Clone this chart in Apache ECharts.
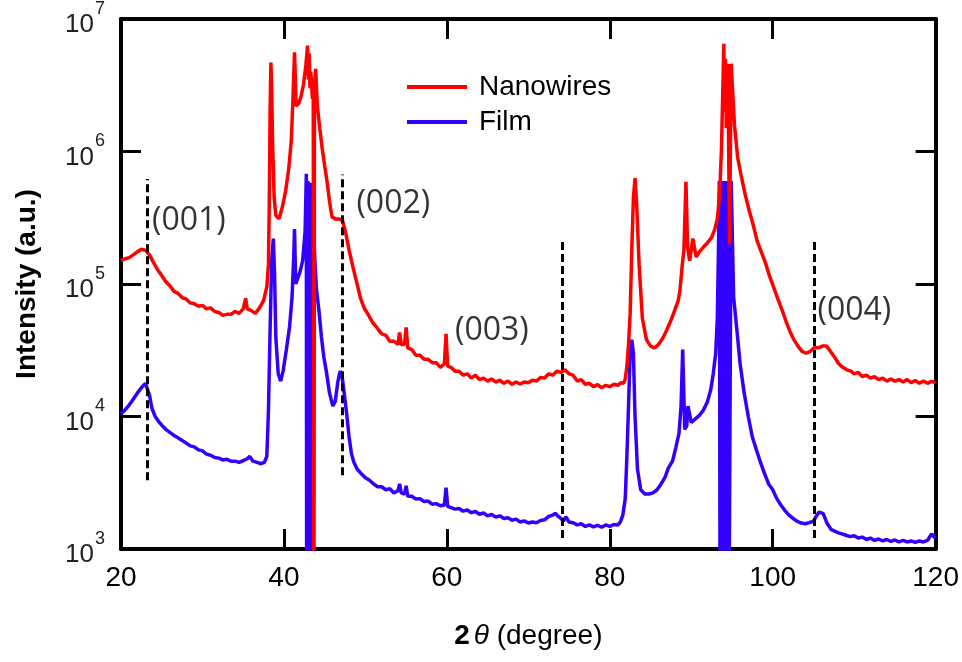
<!DOCTYPE html>
<html>
<head>
<meta charset="utf-8">
<script src="https://cdn.jsdelivr.net/npm/echarts@6/dist/echarts.min.js"></script>
<style>html,body{margin:0;padding:0;background:#fff}#c{width:962px;height:662px}</style>
</head>
<body>
<div id="c"></div>
<script>
// x ticks
const xTicks = [20, 40, 60, 80, 100, 120];
// y decades (log axis)
const yDecades = [1e3, 1e4, 1e5, 1e6, 1e7];

// Nanowires (red) : 2theta, intensity
const nwX = [20.0,20.5,21.0,21.5,22.0,22.5,23.0,23.5,24.0,24.5,25.0,25.5,26.0,26.5,27.0,27.5,28.0,28.5,29.0,29.5,30.0,30.5,31.0,31.5,32.0,32.5,33.0,33.5,34.0,34.5,35.0,35.3,35.5,36.0,36.5,37.0,37.5,37.9,38.1,38.2,38.3,38.4,38.5,38.6,38.8,39.0,39.4,39.8,40.2,40.6,40.9,41.1,41.3,41.5,41.8,42.1,42.4,42.7,42.9,43.0,43.1,43.2,43.3,43.5,43.6,43.68,43.75,43.9,44.1,44.4,44.7,45.0,45.3,45.6,45.9,46.3,46.8,47.2,47.6,48.0,48.4,48.9,49.4,49.9,50.4,50.9,51.4,52.0,52.5,53.0,53.5,54.0,54.2,54.4,54.8,55.0,55.2,55.7,56.2,56.7,57.2,57.7,58.2,58.7,59.2,59.7,59.9,60.1,60.5,61.0,61.5,62.0,62.5,63.0,63.5,64.0,64.5,65.0,65.5,66.0,66.5,67.0,67.5,68.0,68.5,69.0,69.5,70.0,70.5,71.0,71.5,72.0,72.5,73.0,73.5,74.0,74.5,75.0,75.5,76.0,76.5,77.0,77.5,78.0,78.5,79.0,79.5,80.0,80.5,81.0,81.4,81.7,81.9,82.1,82.3,82.5,82.7,82.9,83.1,83.3,83.6,84.0,84.5,85.0,85.5,86.0,86.5,87.0,87.5,88.0,88.4,88.6,88.75,88.9,89.1,89.35,89.55,89.8,90.2,90.6,91.0,91.5,92.0,92.5,92.9,93.2,93.4,93.55,93.7,93.85,94.0,94.1,94.2,94.3,94.5,94.7,94.9,95.3,95.7,96.1,96.6,97.1,97.6,98.1,98.6,99.1,99.6,100.1,100.6,101.1,101.6,102.1,102.6,103.1,103.6,104.1,104.6,105.1,105.6,106.1,106.6,107.1,107.6,108.1,108.6,109.1,109.6,110.0,110.5,111.0,111.5,112.0,112.5,113.0,113.5,114.0,114.5,115.0,115.5,116.0,116.5,117.0,117.5,118.0,118.5,119.0,119.5,120.0];
const nwY = [1.50e5,1.55e5,1.58e5,1.66e5,1.75e5,1.83e5,1.80e5,1.66e5,1.45e5,1.28e5,1.16e5,1.04e5,9.7e4,8.8e4,8.5e4,7.9e4,7.7e4,7.2e4,7.1e4,6.8e4,6.9e4,6.5e4,6.6e4,6.2e4,6.1e4,5.8e4,5.9e4,5.9e4,6.2e4,6.0e4,6.5e4,7.8e4,6.5e4,6.3e4,6.0e4,6.6e4,7.5e4,9.5e4,1.4e5,4.0e5,2.0e6,4.7e6,3.0e6,1.2e6,4.5e5,3.3e5,3.1e5,3.8e5,5.0e5,7.5e5,1.2e6,2.4e6,5.6e6,2.2e6,2.3e6,2.6e6,3.2e6,4.5e6,6.3e6,3.5e6,5.5e6,3.0e6,4.0e6,2.5e6,2.8e6,100,3.2e6,4.2e6,2.2e6,1.5e6,1.05e6,7.8e5,5.9e5,4.2e5,3.2e5,3.1e5,3.1e5,3.0e5,2.4e5,1.8e5,1.4e5,1.05e5,7.8e4,6.5e4,5.8e4,5.1e4,4.7e4,4.2e4,4.1e4,3.7e4,3.7e4,3.5e4,4.3e4,3.5e4,3.5e4,4.7e4,3.3e4,3.2e4,2.9e4,2.9e4,2.7e4,2.7e4,2.55e4,2.55e4,2.35e4,2.5e4,4.2e4,2.4e4,2.35e4,2.2e4,2.2e4,2.05e4,2.1e4,1.95e4,2.05e4,1.9e4,1.95e4,1.85e4,1.92e4,1.82e4,1.88e4,1.78e4,1.85e4,1.75e4,1.82e4,1.76e4,1.82e4,1.8e4,1.88e4,1.85e4,1.97e4,1.95e4,2.1e4,2.05e4,2.2e4,2.15e4,2.25e4,2.1e4,2.05e4,1.85e4,1.9e4,1.75e4,1.78e4,1.68e4,1.74e4,1.65e4,1.72e4,1.68e4,1.75e4,1.72e4,1.8e4,1.78e4,1.92e4,2.4e4,3.5e4,6.0e4,1.8e5,4.5e5,6.3e5,4.0e5,1.4e5,5.5e4,3.8e4,3.4e4,3.3e4,3.5e4,3.9e4,4.5e4,5.3e4,6.4e4,7.5e4,8.8e4,1.1e5,1.4e5,1.8e5,5.9e5,1.9e5,1.5e5,2.2e5,1.6e5,1.75e5,1.9e5,2.05e5,2.25e5,2.6e5,3.1e5,4.2e5,6.0e5,1.0e6,2.5e6,6.5e6,2.0e6,5.0e6,1.5e6,4.6e6,2.0e5,4.6e6,1.6e6,9.0e5,6.7e5,4.8e5,3.6e5,2.8e5,2.1e5,1.75e5,1.45e5,1.15e5,9.5e4,7.8e4,6.5e4,5.3e4,4.4e4,3.8e4,3.4e4,3.1e4,3.0e4,3.1e4,3.3e4,3.3e4,3.4e4,3.4e4,3.1e4,2.8e4,2.5e4,2.35e4,2.25e4,2.2e4,2.1e4,2.15e4,2.0e4,2.05e4,1.95e4,2.0e4,1.9e4,1.95e4,1.85e4,1.92e4,1.85e4,1.9e4,1.82e4,1.9e4,1.8e4,1.87e4,1.78e4,1.85e4,1.78e4,1.84e4,1.8e4,1.85e4,2.05e4,1.9e4];

// Film (blue) : 2theta, intensity
const fmX = [20.0,20.5,21.0,21.5,22.0,22.5,23.0,23.2,23.5,23.8,24.2,24.6,25.0,25.5,26.0,26.5,27.0,27.5,28.0,28.5,29.0,29.5,30.0,30.5,31.0,31.5,32.0,32.5,33.0,33.5,34.0,34.5,35.0,35.5,35.8,36.2,36.7,37.2,37.6,37.9,38.1,38.3,38.5,38.7,38.85,39.0,39.3,39.6,39.9,40.3,40.7,41.0,41.2,41.3,41.45,41.7,42.0,42.3,42.6,42.75,42.8,42.85,42.9,42.95,43.0,43.05,43.1,43.15,43.2,43.25,43.3,43.35,43.4,43.45,43.5,43.55,43.6,43.8,44.0,44.3,44.6,44.9,45.2,45.6,46.0,46.3,46.6,46.9,47.1,47.4,47.7,48.0,48.3,48.6,49.0,49.5,50.0,50.5,51.0,51.5,52.0,52.5,53.0,53.5,54.0,54.2,54.4,54.8,55.0,55.2,55.7,56.2,56.7,57.2,57.7,58.2,58.7,59.2,59.7,59.9,60.1,60.5,61.0,61.5,62.0,62.5,63.0,63.5,64.0,64.5,65.0,65.5,66.0,66.5,67.0,67.5,68.0,68.5,69.0,69.5,70.0,70.5,71.0,71.5,72.0,72.5,73.0,73.3,73.6,74.0,74.3,74.6,75.0,75.5,76.0,76.5,77.0,77.5,78.0,78.5,79.0,79.5,80.0,80.5,81.0,81.3,81.6,81.9,82.1,82.3,82.5,82.7,82.9,83.1,83.4,83.8,84.3,84.8,85.3,85.8,86.3,86.8,87.2,87.7,88.1,88.5,88.75,88.95,89.2,89.45,89.6,90.0,90.5,91.0,91.5,92.0,92.4,92.7,93.0,93.2,93.35,93.45,93.55,93.65,93.75,93.85,93.95,94.05,94.15,94.25,94.35,94.45,94.6,94.9,95.2,95.6,96.0,96.5,97.0,97.5,98.0,98.5,99.0,99.5,100.0,100.5,101.0,101.5,102.0,102.5,103.0,103.5,104.0,104.5,105.0,105.3,105.7,106.2,106.7,107.2,108.0,108.5,109.0,109.5,110.0,110.5,111.0,111.5,112.0,112.5,113.0,113.5,114.0,114.5,115.0,115.5,116.0,116.5,117.0,117.5,118.0,118.5,119.0,119.5,120.0];
const fmY = [1.05e4,1.12e4,1.22e4,1.35e4,1.5e4,1.65e4,1.78e4,1.75e4,1.45e4,1.15e4,1.0e4,9.2e3,8.6e3,8.0e3,7.6e3,7.2e3,6.9e3,6.6e3,6.3e3,6.0e3,5.9e3,5.6e3,5.5e3,5.2e3,5.1e3,4.9e3,4.85e3,4.7e3,4.75e3,4.6e3,4.6e3,4.5e3,4.65e3,4.8e3,5.0e3,4.6e3,4.5e3,4.4e3,4.5e3,5.0e3,1.1e4,4.5e4,1.5e5,2.2e5,1.2e5,4.0e4,2.1e4,1.85e4,2.2e4,3.2e4,4.8e4,8.0e4,1.6e5,2.6e5,1.0e5,1.1e5,1.25e5,1.5e5,2.5e5,6.8e5,100,5.0e5,100,6.0e5,100,4.5e5,100,5.0e5,100,5.6e5,100,5.8e5,100,5.0e5,100,5.5e5,3.0e5,1.5e5,9.0e4,6.3e4,4.0e4,2.8e4,2.2e4,1.5e4,1.2e4,1.3e4,1.8e4,2.2e4,2.1e4,1.5e4,1.05e4,7.0e3,5.2e3,4.5e3,4.0e3,3.7e3,3.45e3,3.3e3,3.1e3,2.95e3,2.95e3,2.8e3,2.85e3,2.65e3,2.75e3,3.1e3,2.65e3,2.6e3,3.0e3,2.5e3,2.5e3,2.38e3,2.4e3,2.28e3,2.3e3,2.18e3,2.2e3,2.12e3,2.15e3,2.9e3,2.1e3,2.05e3,2.0e3,2.02e3,1.93e3,1.97e3,1.88e3,1.92e3,1.83e3,1.87e3,1.78e3,1.82e3,1.74e3,1.78e3,1.7e3,1.72e3,1.65e3,1.68e3,1.6e3,1.63e3,1.57e3,1.6e3,1.58e3,1.64e3,1.66e3,1.76e3,1.8e3,1.86e3,1.78e3,1.7e3,1.62e3,1.75e3,1.6e3,1.58e3,1.52e3,1.55e3,1.48e3,1.52e3,1.47e3,1.51e3,1.46e3,1.52e3,1.48e3,1.53e3,1.52e3,1.6e3,1.8e3,2.4e3,5.0e3,1.2e4,3.0e4,3.8e4,3.0e4,1.0e4,4.0e3,2.8e3,2.6e3,2.6e3,2.65e3,2.8e3,3.1e3,3.5e3,4.1e3,4.6e3,5.8e3,7.5e3,1.2e4,3.2e4,8.0e3,8.5e3,1.2e4,9.0e3,9.6e3,1.02e4,1.12e4,1.3e4,1.6e4,2.1e4,3.0e4,5.5e4,2.0e5,6.0e5,100,6.0e5,100,6.0e5,100,6.0e5,100,6.0e5,100,6.0e5,100,6.0e5,8.0e4,4.5e4,2.5e4,1.5e4,1.0e4,7.0e3,5.6e3,4.5e3,3.7e3,3.1e3,2.8e3,2.4e3,2.15e3,1.95e3,1.8e3,1.7e3,1.62e3,1.57e3,1.55e3,1.58e3,1.62e3,1.75e3,1.9e3,1.85e3,1.55e3,1.4e3,1.33e3,1.3e3,1.27e3,1.24e3,1.26e3,1.21e3,1.23e3,1.18e3,1.21e3,1.16e3,1.19e3,1.15e3,1.18e3,1.14e3,1.17e3,1.13e3,1.16e3,1.13e3,1.15e3,1.12e3,1.15e3,1.13e3,1.16e3,1.3e3,1.2e3];

// peak annotations
const peakNames = ['(001)', '(002)', '(003)', '(004)'];
const peakLabelX = [23.8, 48.9, 61.0, 105.5];
const peakLabelY = [3.0e5, 4.0e5, 4.4e4, 6.3e4];
// dashed guide lines: x position, y bottom, y top
const guideX = [23.2, 47.2, 74.2, 105.1];
const guideYLow = [3.3e3, 3.6e3, 1.21e3, 1.21e3];
const guideYHigh = [6.2e5, 6.7e5, 2.2e5, 2.2e5];

const zip = (xs, ys) => xs.map((x, i) => [x, ys[i]]);
const FONT = 'Liberation Sans';

const chart = echarts.init(document.getElementById('c'), null, {renderer: 'canvas'});

const axisLineStyle = {color: '#000', width: 4};
const tickStyle = {color: '#000', width: 3};

const option = {
  animation: false,
  backgroundColor: '#fff',
  grid: {left: 121, right: 24, top: 17, bottom: 113, containLabel: false},
  legend: {
    data: ['Nanowires', 'Film'],
    orient: 'vertical',
    left: 402, top: 68,
    icon: 'rect', itemWidth: 60, itemHeight: 4, itemGap: 7,
    textStyle: {fontFamily: FONT, fontSize: 28, color: '#000', padding: [0, 0, 0, 7]}
  },
  xAxis: [{
    type: 'value', min: xTicks[0], max: xTicks[xTicks.length - 1], interval: 20,
    position: 'bottom',
    axisLine: {lineStyle: axisLineStyle},
    axisTick: {inside: true, length: 20, lineStyle: tickStyle},
    splitLine: {show: false},
    axisLabel: {fontFamily: FONT, fontSize: 28, color: '#000', margin: 15},
    name: '{b|2}{i|θ}{n| (degree)}',
    nameLocation: 'middle', nameGap: 73,
    nameTextStyle: {
      rich: {
        b: {fontFamily: FONT, fontSize: 28, fontWeight: 'bold', color: '#000'},
        i: {fontFamily: FONT, fontSize: 28, fontStyle: 'italic', color: '#000', padding: [0, 0, 0, 4]},
        n: {fontFamily: FONT, fontSize: 28, color: '#000'}
      }
    }
  }, {
    type: 'value', min: xTicks[0], max: xTicks[xTicks.length - 1], interval: 20,
    position: 'top',
    axisLine: {lineStyle: axisLineStyle},
    axisTick: {inside: true, length: 20, lineStyle: tickStyle},
    splitLine: {show: false},
    axisLabel: {show: false}
  }],
  yAxis: [{
    type: 'log', logBase: 10, min: yDecades[0], max: yDecades[yDecades.length - 1],
    position: 'left',
    axisLine: {show: true, lineStyle: axisLineStyle},
    axisTick: {show: true, inside: true, length: 20, lineStyle: tickStyle},
    minorTick: {show: false},
    splitLine: {show: false},
    axisLabel: {
      margin: 16,
      formatter: v => '{b|10}{s|' + Math.round(Math.log10(v)) + '}',
      rich: {
        b: {fontFamily: FONT, fontSize: 26, color: '#222', padding: [12, 0, 0, 0]},
        s: {fontFamily: FONT, fontSize: 18, color: '#222', verticalAlign: 'top', padding: [0, 0, 0, 1]}
      }
    },
    name: 'Intensity (a.u.)',
    nameLocation: 'middle', nameGap: 80,
    nameTextStyle: {fontFamily: FONT, fontSize: 28, fontWeight: 'bold', color: '#000'}
  }, {
    type: 'log', logBase: 10, min: yDecades[0], max: yDecades[yDecades.length - 1],
    position: 'right',
    axisLine: {show: true, lineStyle: axisLineStyle},
    axisTick: {show: true, inside: true, length: 20, lineStyle: tickStyle},
    splitLine: {show: false},
    axisLabel: {show: false}
  }],
  series: [{
    name: 'Film', type: 'line', color: '#3300ff',
    xAxisIndex: 0, yAxisIndex: 0,
    data: zip(fmX, fmY), showSymbol: false, symbol: 'none', clip: true,
    lineStyle: {width: 3.5, color: '#3300ff'}
  }, {
    name: 'Nanowires', type: 'line', color: '#ff0000',
    xAxisIndex: 0, yAxisIndex: 0,
    data: zip(nwX, nwY), showSymbol: false, symbol: 'none', clip: true,
    lineStyle: {width: 3.5, color: '#ff0000'},
    markLine: {
      silent: true, symbol: 'none', animation: false,
      lineStyle: {color: '#000', width: 3, type: [8, 4]},
      label: {show: false},
      data: guideX.map((x, i) => [{coord: [x, guideYLow[i]]}, {coord: [x, guideYHigh[i]]}])
    }
  }, {
    name: 'peaks', type: 'scatter', xAxisIndex: 0, yAxisIndex: 0,
    symbolSize: 0, silent: true,
    data: peakNames.map((n, i) => [peakLabelX[i], peakLabelY[i], n]),
    label: {
      show: true, position: 'right', distance: 0,
      formatter: p => p.data[2],
      fontFamily: 'Open Sans', fontSize: 32, color: '#000'
    }
  }]
};
chart.setOption(option);
</script>
</body>
</html>
